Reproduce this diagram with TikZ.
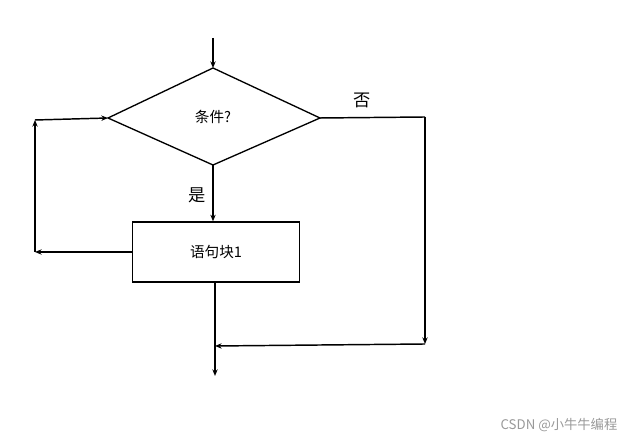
\documentclass[tikz,border=0pt]{standalone}
\usepackage{fontspec}
\setmainfont{Noto Sans CJK SC}
\usetikzlibrary{shapes.geometric,arrows.meta}
\begin{document}
\begin{tikzpicture}[x=0.02646cm,y=-0.02646cm,
  ln/.style={line width=1.1pt,-{Stealth[length=5pt,width=4pt]}},
  box/.style={draw,line width=1pt}]
\useasboundingbox (0,0) rectangle (637,443);
\draw[box] (108,118) coordinate (dl) -- (213,68) coordinate (dt) -- (320,118) coordinate (dr) -- (213,165) coordinate (db) -- cycle;
\node (cond) at (213,117) {\fontsize{11pt}{13pt}\selectfont 条件?};
\node[box,minimum width=167*0.02646cm,minimum height=60*0.02646cm] (blk) at (216,252) {\fontsize{11pt}{13pt}\selectfont 语句块1};
\coordinate (top) at (213,38);
\draw[ln] (top) -- (dt);
\draw[ln] (db) -- (blk.north -| db);
\node at (197,195) {\fontsize{13pt}{15pt}\selectfont 是};
\node at (362,100) {\fontsize{13pt}{15pt}\selectfont 否};
\coordinate (l1) at (35,252);
\coordinate (l2) at (35,120);
\draw[ln] (blk.west) -- (l1);
\draw[ln] (l1) -- (l2);
\draw[ln] (l2) -- (dl);
\coordinate (r1) at (425,117);
\coordinate (r2) at (425,344);
\coordinate (j) at (215,346);
\draw[line width=1.1pt] (dr) -- (r1);
\draw[ln] (r1) -- (r2);
\draw[ln] (r2) -- (j);
\coordinate (out) at (215,376);
\draw[ln] (blk.south -| out) -- (out);
\node[text=gray!80,anchor=east] (wm) at (622,425) {\fontsize{10pt}{12pt}\selectfont CSDN @小牛牛编程};
\end{tikzpicture}
\end{document}
